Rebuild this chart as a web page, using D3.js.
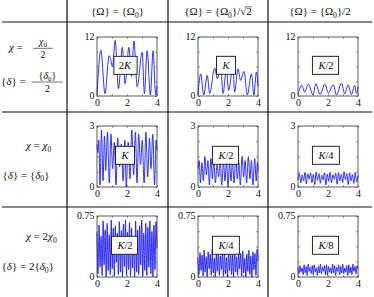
<!DOCTYPE html>
<html>
<head>
<meta charset="utf-8">
<script src="https://cdn.jsdelivr.net/npm/d3@7"></script>
<style>
body { margin: 0; background: #fff; }
svg { display: block; }
</style>
</head>
<body>
<div id="container"></div>
<script>
// ---- data ----
var rowMax = [12, 3, 0.75];
var yTicks = [[0, 3, 6, 9, 12], [0, 0.75, 1.5, 2.25, 3], [0, 0.1875, 0.375, 0.5625, 0.75]];
var xTicks = [0, 1, 2, 3, 4];
var boxLabels = [["2K", "K", "K/2"], ["K", "K/2", "K/4"], ["K/2", "K/4", "K/8"]];

// row 1 : [t, value] pairs
var sA = [[0,0.2],[0.26,9.3],[0.53,0.5],[0.81,8.2],[0.92,7.4],[1.03,5.9],[1.21,11.3],[1.43,1.5],[1.69,9.9],[1.87,2.5],
          [2.13,9.9],[2.3,4],[2.46,11.2],[2.68,1.9],[3.01,8.9],[3.16,0.5],[3.34,9.2],[3.56,0.2],[3.74,9.2],[3.91,0.2],[4,2]];
var sB = [[0,0.2],[0.18,4.5],[0.38,0.2],[0.62,4.2],[0.78,0.5],[1.11,5.7],[1.29,3.5],[1.51,5.9],[1.67,0.5],[1.89,5.5],
          [2.04,1.1],[2.33,5.9],[2.44,0.8],[2.67,5.5],[2.84,3.2],[3.07,5.0],[3.29,0.2],[3.56,4.5],[3.73,0.2],[3.89,4.9],[4,2]];
var sC = [[0,0.3],[0.26,2.2],[0.44,0.8],[0.7,2.4],[1.0,0.2],[1.19,2.5],[1.47,0.3],[1.8,2.4],[2.02,0.6],[2.35,2.3],
          [2.57,0.2],[2.9,2.6],[3.12,0.4],[3.34,2.3],[3.56,0.3],[3.78,2.2],[3.9,0.5],[4,1.8]];
// row 2
var sD = [[0,2.1],[0.06,1.7],[0.12,2.3],[0.2,0.1],[0.3,2.8],[0.4,0.3],[0.5,2.5],[0.58,0.8],[0.7,2.7],[0.82,0.2],
          [0.93,2.6],[1.04,0.9],[1.15,2.2],[1.27,0.1],[1.38,2.4],[1.5,1.0],[1.62,2.1],[1.74,0.3],[1.86,2.3],[1.95,0.0],
          [2.08,2.2],[2.2,0.4],[2.32,2.8],[2.44,0.6],[2.56,2.7],[2.67,0.2],[2.78,2.6],[2.9,1.1],[3.02,2.3],[3.14,0.2],
          [3.26,2.7],[3.38,0.5],[3.5,2.4],[3.6,0.9],[3.72,2.6],[3.84,0.1],[3.94,2.3],[4,1.8]];
var sE = [[0,0.9],[0.08,1.3],[0.16,0.2],[0.26,1.2],[0.36,0.3],[0.46,1.5],[0.56,0.6],[0.66,1.3],[0.76,0.1],[0.86,1.4],
          [0.96,0.4],[1.06,1.3],[1.16,0.2],[1.27,1.1],[1.38,0.5],[1.48,1.3],[1.58,0.1],[1.7,1.2],[1.8,0.3],[1.9,1.3],
          [2.0,0.0],[2.1,1.2],[2.2,0.3],[2.3,1.3],[2.4,0.2],[2.52,1.4],[2.62,0.4],[2.72,1.2],[2.82,0.1],[2.94,1.5],
          [3.04,0.5],[3.14,1.3],[3.24,0.2],[3.36,1.5],[3.46,0.4],[3.56,1.3],[3.66,0.1],[3.78,1.4],[3.88,0.3],[3.96,1.2],[4,0.8]];
// evenly sampled series (sample index spans t = 0..4)
var sF = [0.35,0.68,0.2,0.6,0.3,0.72,0.15,0.65,0.4,0.7,0.22,0.62,0.12,0.74,0.33,0.66,0.18,0.58,0.35,0.7,0.1,0.64,
          0.28,0.73,0.2,0.6,0.38,0.68,0.14,0.71,0.3,0.62,0.22,0.75,0.36,0.66,0.12,0.7,0.3,0.62,0.18,0.72,0.25,0.55];
var sG = [0.55,0.04,0.64,0.12,0.5,0.02,0.69,0.15,0.58,0.0, 0.66,0.08,0.52,0.03,0.7,0.1,0.6,0.01,0.63,0.18,
          0.54,0.03,0.68,0.06,0.57,0.0,0.65,0.13,0.7,0.02, 0.55,0.09,0.67,0.01,0.6,0.11,0.5,0.0,0.69,0.06,
          0.58,0.03,0.63,0.15,0.7,0.01,0.54,0.08,0.66,0.02, 0.61,0.12,0.69,0.04,0.56,0.0,0.64,0.09,0.68,0.35];
var sH = [0.24,0.03,0.3,0.08,0.27,0.01,0.33,0.06,0.25,0.0, 0.31,0.1,0.28,0.02,0.34,0.05,0.23,0.0,0.29,0.07,
          0.32,0.02,0.26,0.09,0.3,0.01,0.33,0.04,0.24,0.0, 0.28,0.08,0.31,0.03,0.27,0.0,0.34,0.06,0.25,0.02,
          0.3,0.1,0.29,0.01,0.32,0.05,0.23,0.0,0.28,0.07, 0.33,0.03,0.26,0.0,0.31,0.09,0.29,0.02,0.34,0.2];
var sI = [0.12,0.04,0.14,0.06,0.11,0.03,0.15,0.05,0.13,0.02, 0.16,0.07,0.12,0.04,0.14,0.03,0.15,0.06,0.11,0.02,
          0.13,0.05,0.16,0.04,0.12,0.07,0.14,0.03,0.15,0.02, 0.13,0.06,0.11,0.04,0.16,0.05,0.14,0.02,0.12,0.07,
          0.15,0.03,0.13,0.05,0.16,0.04,0.11,0.06,0.14,0.02, 0.15,0.05,0.12,0.03,0.16,0.07,0.13,0.04,0.14,0.1];
var series = [[sA, sB, sC], [sD, sE, sF], [sG, sH, sI]];

// ---- layout ----
var width = 374, height = 297;
var colX = [97, 198, 298];
var rowY = [37, 126, 216];
var boxW = 60;
var boxH = [59, 61, 61];
var serif = "Liberation Serif";

var svg = d3.select('#container').append('svg').attr('width', width).attr('height', height)
    .attr('font-family', serif);

// text made of pieces: [string, style]  style: 'i' italic, 'sub' subscript
function mathText(sel, x, yb, parts, size, anchor) {
    var t = sel.append('text').attr('x', x).attr('y', yb).attr('font-family', serif)
        .attr('font-size', size).attr('text-anchor', anchor || 'start').attr('fill', '#111');
    var shift = 0;
    parts.forEach(function(p) {
        var ts = t.append('tspan').text(p[0]);
        if (p[1] === 'sub') {
            ts.attr('font-size', size * 0.7).attr('dy', 2.5 - shift);
            shift = 2.5;
        } else {
            if (shift) { ts.attr('dy', -shift); shift = 0; }
            if (p[1] === 'i') ts.attr('font-style', 'italic');
        }
    });
    return t;
}

// header
var headers = [
    [["{Ω} = {Ω"], ["0", "sub"], ["}"]],
    [["{Ω} = {Ω"], ["0", "sub"], ["}/√2"]],
    [["{Ω} = {Ω"], ["0", "sub"], ["}/2"]]
];
var headX = [117.5, 218, 320];
headers.forEach(function(h, i) {
    var t = mathText(svg, headX[i], 15, h, 11, 'middle');
    if (i === 1) {
        // overbar of the square root
        var node = t.node();
        var n = node.getNumberOfChars();
        var e = node.getExtentOfChar(n - 1);
        var r = node.getExtentOfChar(n - 2);
        svg.append('line')
            .attr('x1', r.x + r.width - 0.8).attr('x2', e.x + e.width + 0.3)
            .attr('y1', e.y + 1.8).attr('y2', e.y + 1.8)
            .attr('stroke', '#111').attr('stroke-width', 0.6);
    }
});

// row labels
function fraction(cx, barY, x1, x2, num) {
    mathText(svg, cx, barY - 3.5, num, 10, 'middle');
    svg.append('line').attr('x1', x1).attr('x2', x2).attr('y1', barY).attr('y2', barY)
        .attr('stroke', '#111').attr('stroke-width', 0.6);
    mathText(svg, cx, barY + 9.8, [["2"]], 10, 'middle');
}
mathText(svg, 9, 51, [["χ", "i"], [" ="]], 11);
fraction(43, 48.3, 33, 53, [["χ", "i"], ["0", "sub"]]);
mathText(svg, 1, 85, [["{"], ["δ", "i"], ["} ="]], 11);
fraction(47.5, 82, 32, 63, [["{"], ["δ", "i"], ["0", "sub"], ["}"]]);

mathText(svg, 26, 149, [["χ", "i"], [" = "], ["χ", "i"], ["0", "sub"]], 11);
mathText(svg, 2.5, 178.5, [["{"], ["δ", "i"], ["} = {"], ["δ", "i"], ["0", "sub"], ["}"]], 11);
mathText(svg, 26, 240, [["χ", "i"], [" = 2"], ["χ", "i"], ["0", "sub"]], 11);
mathText(svg, 1.5, 270, [["{"], ["δ", "i"], ["} = 2{"], ["δ", "i"], ["0", "sub"], ["}"]], 11);

// panels
series.forEach(function(rowSeries, r) {
    rowSeries.forEach(function(s, c) {
        var h = boxH[r];
        var g = svg.append('g').attr('transform', 'translate(' + colX[c] + ',' + rowY[r] + ')');
        var x = d3.scaleLinear().domain([0, 4]).range([0, boxW]);
        var y = d3.scaleLinear().domain([0, rowMax[r]]).range([h, 0]);

        var line = d3.line().curve(d3.curveMonotoneX);
        if (Array.isArray(s[0])) {
            line.x(function(d) { return x(d[0]); }).y(function(d) { return y(d[1]); });
        } else {
            var xi = d3.scaleLinear().domain([0, s.length - 1]).range([0, boxW]);
            line.x(function(d, i) { return xi(i); }).y(function(d) { return y(d); });
        }
        g.append('path').datum(s).attr('d', line)
            .attr('fill', 'none').attr('stroke', '#1a1aff').attr('stroke-width', 0.9);

        var yFmt = function(d) { return (d === 0 || d === rowMax[r]) ? d : ''; };
        var xFmt = function(d) { return d % 2 === 0 ? d : ''; };
        var axes = [
            g.append('g').call(d3.axisLeft(y).tickValues(yTicks[r]).tickSizeInner(-2).tickSizeOuter(0).tickPadding(2.5).tickFormat(yFmt)),
            g.append('g').attr('transform', 'translate(' + boxW + ',0)')
                .call(d3.axisRight(y).tickValues(yTicks[r]).tickSizeInner(-2).tickSizeOuter(0).tickFormat('')),
            g.append('g').attr('transform', 'translate(0,' + h + ')')
                .call(d3.axisBottom(x).tickValues(xTicks).tickSizeInner(-2).tickSizeOuter(0).tickPadding(2.5).tickFormat(xFmt)),
            g.append('g').call(d3.axisTop(x).tickValues(xTicks).tickSizeInner(-2).tickSizeOuter(0).tickFormat(''))
        ];
        axes.forEach(function(a) {
            a.attr('font-family', serif).attr('font-size', 10);
            a.select('.domain').remove();
            a.selectAll('line').attr('stroke', '#666').attr('stroke-width', 0.6);
            a.selectAll('text').attr('fill', '#111').attr('font-family', serif);
        });
        axes[0].selectAll('text').attr('dy', '0.2em');

        g.append('rect').attr('width', boxW).attr('height', h)
            .attr('fill', 'none').attr('stroke', '#333').attr('stroke-width', 0.8);

        // label box
        var lab = boxLabels[r][c];
        var k = lab.indexOf('K');
        var t = g.append('text').attr('x', 28).attr('y', h * 0.48 + 3.5).attr('font-family', serif)
            .attr('text-anchor', 'middle').attr('font-size', 10.5).attr('fill', '#111');
        if (k > 0) t.append('tspan').text(lab.slice(0, k));
        t.append('tspan').attr('font-style', 'italic').text('K');
        if (k < lab.length - 1) t.append('tspan').text(lab.slice(k + 1));
        var bb = t.node().getBBox();
        g.insert('rect', function() { return t.node(); })
            .attr('x', bb.x - 5).attr('y', h * 0.48 - 9).attr('width', bb.width + 10).attr('height', 18)
            .attr('fill', '#fff').attr('stroke', '#111').attr('stroke-width', 0.9);
    });
});

// table rules
var hLines = [22, 112, 207];
var vLines = [67, 168, 268];
hLines.forEach(function(yy) {
    svg.append('line').attr('x1', 2).attr('x2', 372).attr('y1', yy).attr('y2', yy)
        .attr('stroke', '#111').attr('stroke-width', 1.2);
});
vLines.forEach(function(xx) {
    svg.append('line').attr('x1', xx).attr('x2', xx).attr('y1', 0).attr('y2', height)
        .attr('stroke', '#111').attr('stroke-width', 1.2);
});
</script>
</body>
</html>
